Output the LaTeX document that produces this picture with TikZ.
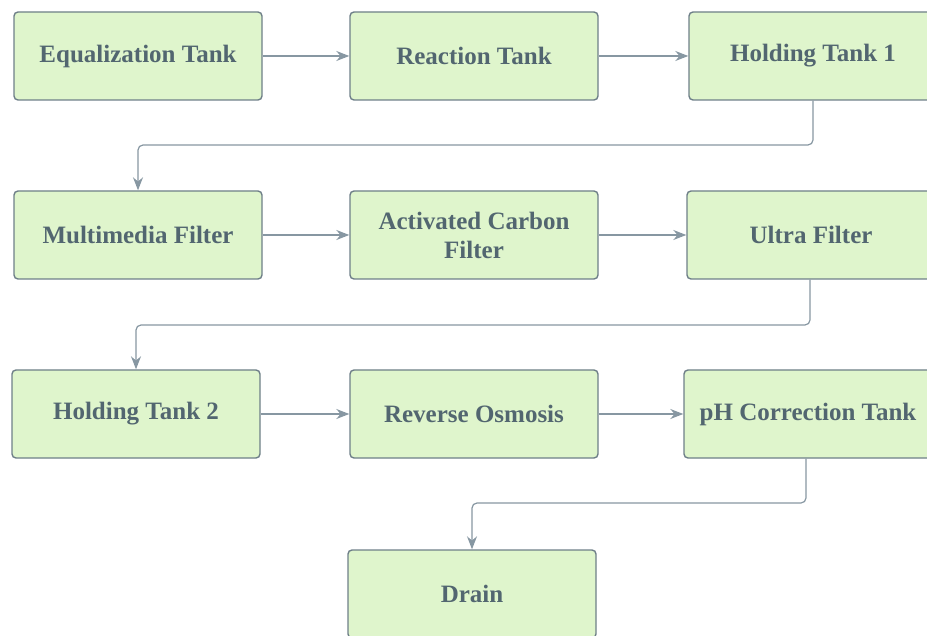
\documentclass[tikz,border=0pt]{standalone}
\usepackage{fontspec}
\setmainfont{Liberation Serif}
\usetikzlibrary{arrows.meta}
\definecolor{boxfill}{HTML}{DFF5CC}
\definecolor{boxline}{HTML}{6E7F88}
\definecolor{txt}{HTML}{526670}
\definecolor{arr}{HTML}{8797A2}
\tikzset{
  proc/.style={draw=boxline, line width=1.4pt, fill=boxfill, rounded corners=4pt,
    minimum width=248pt, minimum height=88pt, inner sep=0pt, align=center,
    text=txt, font=\fontsize{25}{29}\selectfont\bfseries},
  flow/.style={draw=arr, line width=1.2pt, rounded corners=5pt,
    -{Stealth[length=13pt,width=10pt]}}
}
\begin{document}
\begin{tikzpicture}[x=1pt,y=-1pt]
\useasboundingbox (0,0) rectangle (927,636);
\node[proc] (eq) at (138,56) {Equalization Tank};
\node[proc] (re) at (474,56) {Reaction Tank};
\node[proc] (h1) at (813,56) {Holding Tank 1};
\node[proc] (mm) at (138,235) {Multimedia Filter};
\node[proc] (ac) at (474,235) {Activated Carbon\\Filter};
\node[proc] (uf) at (811,235) {Ultra Filter};
\node[proc] (h2) at (136,414) {Holding Tank 2};
\node[proc] (ro) at (474,414) {Reverse Osmosis};
\node[proc] (ph) at (808,414) {pH Correction Tank};
\node[proc] (dr) at (472,594) {Drain};
\coordinate (c1) at (813,145);
\coordinate (c2) at (810,325);
\coordinate (c3) at (806,503);
\draw[flow] (eq) -- (re);
\draw[flow] (re) -- (h1);
\draw[flow] (h1.south) -- (c1) -| (mm.north);
\draw[flow] (mm) -- (ac);
\draw[flow] (ac) -- (uf);
\draw[flow] (uf.south -| c2) -- (c2) -| (h2.north);
\draw[flow] (h2) -- (ro);
\draw[flow] (ro) -- (ph);
\draw[flow] (ph.south -| c3) -- (c3) -| (dr.north);
\end{tikzpicture}
\end{document}
